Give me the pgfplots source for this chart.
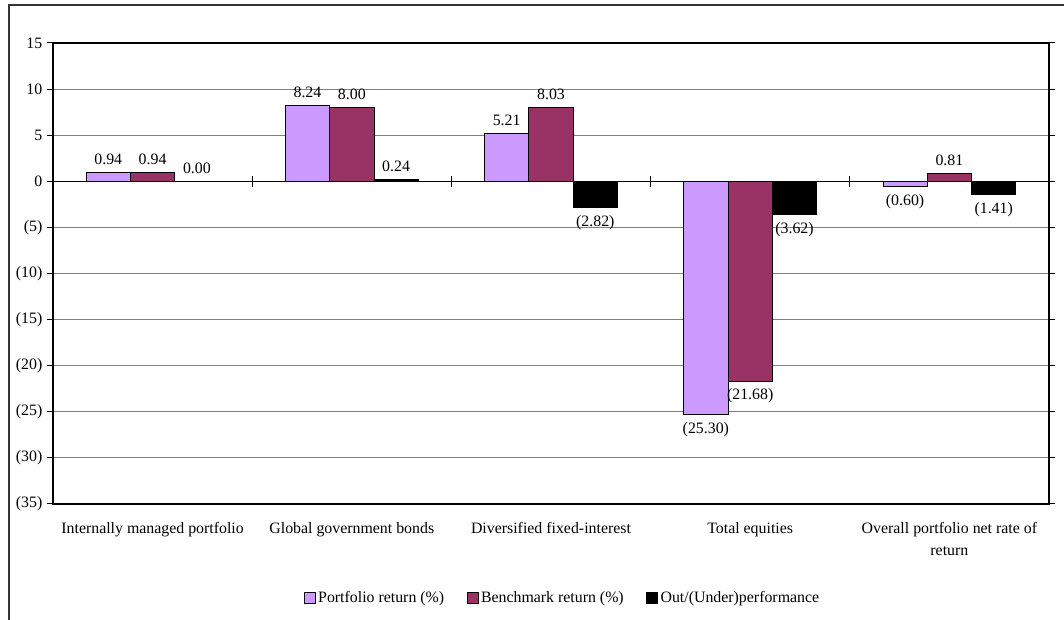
\documentclass[border=0pt]{standalone}
\usepackage{fontspec}
\setmainfont{Liberation Serif}
\usepackage{pgfplots}
\usepackage{pgfplotstable}
\pgfplotsset{compat=1.18}
\definecolor{cPort}{HTML}{CC99FF}
\definecolor{cBench}{HTML}{993366}
\definecolor{cGrid}{HTML}{808080}
\pgfplotstableread{
x y label
1 0.94 0.94
2 8.24 8.24
3 5.21 5.21
4 -25.30 (25.30)
5 -0.60 (0.60)
}\portfolio
\pgfplotstableread{
x y label
1 0.94 0.94
2 8.00 8.00
3 8.03 8.03
4 -21.68 (21.68)
5 0.81 0.81
}\benchmark
\pgfplotstableread{
x y label
1 0.00 0.00
2 0.24 0.24
3 -2.82 (2.82)
4 -3.62 (3.62)
5 -1.41 (1.41)
}\outperf
\begin{document}
\begin{tikzpicture}
\useasboundingbox (0,0) rectangle (798pt,465pt);
\draw[line width=1.1pt, color=black!80] (6.75pt,-10pt) -- (6.75pt,461.25pt) -- (820pt,461.25pt);
\begin{axis}[
  at={(39.75pt,87pt)}, anchor=south west,
  scale only axis, width=747pt, height=345.75pt,
  font=\fontsize{11.9}{14}\selectfont,
  xmin=0.5, xmax=5.5, ymin=-35, ymax=15,
  ybar=0pt, bar width=0.2225,
  xtick={1,2,3,4,5},
  xticklabels={Internally managed portfolio, Global government bonds, Diversified fixed-interest, Total equities, {Overall portfolio net rate of\\return}},
  xticklabel style={align=center, anchor=north, yshift=-6pt, font=\fontsize{11.9}{16.5}\selectfont},
  x tick style={draw=none},
  ytick={-35,-30,...,15},
  yticklabels={(35),(30),(25),(20),(15),(10),(5),0,5,10,15},
  y tick style={black, line width=0.75pt},
  tick align=outside, major tick length=4.5pt,
  ymajorgrids, grid style={cGrid, line width=0.75pt},
  axis line style={black, line width=0.9pt},
  point meta=explicit symbolic,
  visualization depends on={rawy \as \yval},
  nodes near coords={\pgfplotspointmeta},
  every node near coord/.append style={font=\fontsize{11.9}{14}\selectfont, text=black, inner sep=5.5pt, anchor={\ifdim\yval pt<0pt north\else south\fi}},
  legend columns=3,
  legend style={draw=none, at={(0.512,-0.204)}, anchor=center, font=\fontsize{11.9}{14}\selectfont, /tikz/every even column/.append style={column sep=15pt}},
  legend image code/.code={\draw[#1, draw=black, line width=0.6pt] (0pt,-4pt) rectangle (8pt,4pt);},
  clip=false,
]
\addplot[fill=cPort, draw=black, line width=0.6pt] table[x=x, y=y, meta=label] {\portfolio};
\addplot[fill=cBench, draw=black, line width=0.6pt] table[x=x, y=y, meta=label] {\benchmark};
\addplot[fill=black, draw=black, line width=0.6pt] table[x=x, y=y, meta=label] {\outperf};
\legend{Portfolio return (\%), Benchmark return (\%), Out/(Under)performance}
\draw[black, line width=0.9pt] (axis cs:0.5,0) -- (axis cs:5.5,0);
\draw[black, line width=0.75pt] ([yshift=-4pt]axis cs:1.5,0) -- ([yshift=4pt]axis cs:1.5,0);
\draw[black, line width=0.75pt] ([yshift=-4pt]axis cs:2.5,0) -- ([yshift=4pt]axis cs:2.5,0);
\draw[black, line width=0.75pt] ([yshift=-4pt]axis cs:3.5,0) -- ([yshift=4pt]axis cs:3.5,0);
\draw[black, line width=0.75pt] ([yshift=-4pt]axis cs:4.5,0) -- ([yshift=4pt]axis cs:4.5,0);
\end{axis}
\end{tikzpicture}
\end{document}
